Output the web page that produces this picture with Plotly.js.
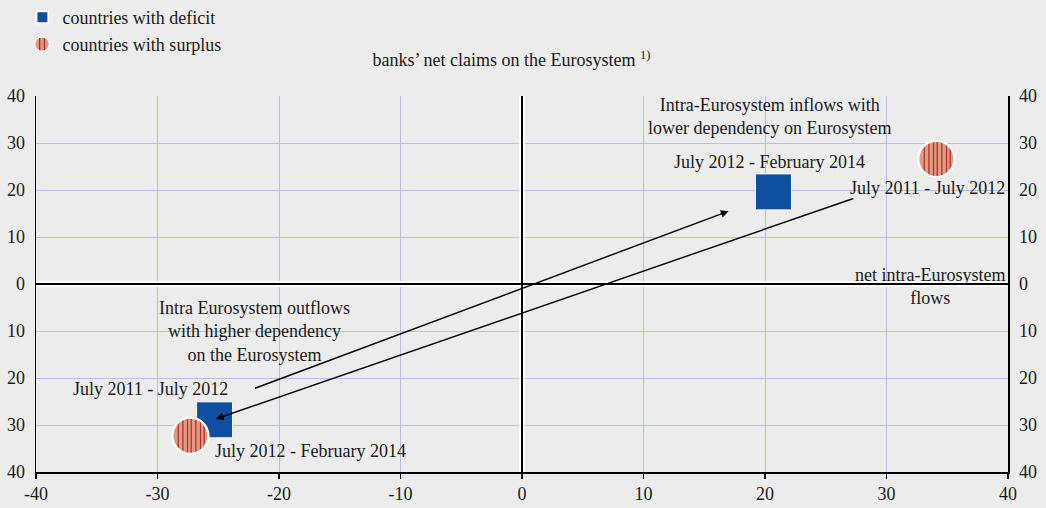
<!DOCTYPE html>
<html>
<head>
<meta charset="utf-8">
<script src="https://cdn.plot.ly/plotly-3.0.1.min.js"></script>
<style>html,body{margin:0;padding:0;background:#ececec;}</style>
</head>
<body>
<div id="chart" style="width:1046px;height:508px;"></div>
<script>
// Data (net intra-Eurosystem flows, banks' net claims on the Eurosystem)
const seriesNames = ["countries with deficit", "countries with surplus"];
const periods = ["July 2011 - July 2012", "July 2012 - February 2014"];
const deficitX = [20.7, -25.3];
const deficitY = [19.6, -28.9];
const surplusX = [34.1, -27.3];
const surplusY = [26.6, -32.3];
const tickVals = [-40, -30, -20, -10, 0, 10, 20, 30, 40];
const xTickText = ["-40", "-30", "-20", "-10", "0", "10", "20", "30", "40"];
const yTickText = ["40", "30", "20", "10", "0", "10", "20", "30", "40"];

const FONT = "'Liberation Serif', 'Times New Roman', serif";
const FS = 18;
const TXT = "#1a1a1a";
const BG = "#ececec";
const GRID = "#b7bfe6";
const BLUE = "#0f4f9f";
const SALMON = "#e29a85";

const stripeSvg = "<svg xmlns='http://www.w3.org/2000/svg' viewBox='0 0 40 40'>" +
  "<defs><clipPath id='c'><circle cx='20' cy='20' r='19'/></clipPath></defs>" +
  "<circle cx='20' cy='20' r='19' fill='" + SALMON + "'/>" +
  "<g clip-path='url(#c)' stroke='#b0332b' stroke-width='1.4'>" +
  "<line x1='7' y1='0' x2='7' y2='40'/><line x1='12' y1='0' x2='12' y2='40'/>" +
  "<line x1='17' y1='0' x2='17' y2='40'/><line x1='21' y1='0' x2='21' y2='40'/>" +
  "<line x1='26' y1='0' x2='26' y2='40'/><line x1='31' y1='0' x2='31' y2='40'/>" +
  "<line x1='35' y1='0' x2='35' y2='40'/></g>" +
  "<circle cx='20' cy='20' r='19' fill='none' stroke='white' stroke-width='1.5'/></svg>";
const stripeUrl = "data:image/svg+xml;charset=utf-8," + encodeURIComponent(stripeSvg);
const legendStripeSvg = "<svg xmlns='http://www.w3.org/2000/svg' viewBox='0 0 40 40'>" +
  "<defs><clipPath id='c'><circle cx='20' cy='20' r='18'/></clipPath></defs>" +
  "<circle cx='20' cy='20' r='18' fill='" + SALMON + "'/>" +
  "<g clip-path='url(#c)' stroke='#b0332b' stroke-width='3.5'>" +
  "<line x1='14' y1='0' x2='14' y2='40'/><line x1='26' y1='0' x2='26' y2='40'/></g>" +
  "<circle cx='20' cy='20' r='18' fill='none' stroke='white' stroke-width='2.5'/></svg>";
const legendStripeUrl = "data:image/svg+xml;charset=utf-8," + encodeURIComponent(legendStripeSvg);

const traces = [
  {
    type: "scatter", mode: "markers", name: seriesNames[0], legendgroup: "d",
    x: deficitX, y: deficitY, text: periods,
    marker: {symbol: "square", size: 36, color: BLUE, line: {color: "white", width: 1}},
    hoverinfo: "x+y+text"
  },
  {
    type: "scatter", mode: "markers", name: seriesNames[1], legendgroup: "s",
    x: surplusX, y: surplusY, text: periods, showlegend: false,
    marker: {symbol: "circle", size: 37, color: SALMON, line: {color: "white", width: 1.5}},
    hoverinfo: "x+y+text"
  },
  // legend entry for the surplus series (striped swatch image sits under this transparent symbol)
  {
    type: "scatter", mode: "markers", name: seriesNames[1], legendgroup: "s",
    x: [null], y: [null], showlegend: true, hoverinfo: "skip",
    marker: {symbol: "circle", size: 14, color: "rgba(0,0,0,0)", line: {color: "rgba(0,0,0,0)", width: 0}}
  },
  {
    type: "scatter", mode: "markers", x: [], y: [], yaxis: "y2",
    showlegend: false, hoverinfo: "skip"
  }
];

const images = surplusX.map((x, i) => ({
  source: stripeUrl, xref: "x", yref: "y", x: x, y: surplusY[i],
  sizex: 3.05, sizey: 7.9, xanchor: "center", yanchor: "middle",
  sizing: "stretch", layer: "above"
}));
// striped swatch for the legend
images.push({
  source: legendStripeUrl, xref: "paper", yref: "paper",
  x: 0.0062, y: 1.138, sizex: 0.0165, sizey: 0.0426,
  xanchor: "center", yanchor: "middle", sizing: "stretch", layer: "above"
});

const ann = (text, x, y, extra) => Object.assign({
  text: text, x: x, y: y, xref: "x", yref: "y", showarrow: false,
  font: {family: FONT, size: FS, color: TXT}, align: "center"
}, extra || {});

const arrow = (x, y, ax, ay) => ({
  text: "", x: x, y: y, ax: ax, ay: ay, xref: "x", yref: "y", axref: "x", ayref: "y",
  showarrow: true, arrowhead: 2, arrowsize: 1.1, arrowwidth: 1.4, arrowcolor: "#000"
});

const annotations = [
  ann("Intra-Eurosystem inflows with<br>lower dependency on Eurosystem", 20.4, 35.7),
  ann(periods[1], 20.4, 26.0),
  ann(periods[0], 33.4, 20.4),
  ann("net intra-Eurosystem<br>flows", 33.6, -0.5),
  ann("Intra Eurosystem outflows<br>with higher dependency<br>on the Eurosystem", -22.0, -10.2),
  ann(periods[0], -30.6, -22.3),
  ann(periods[1], -17.4, -35.5),
  arrow(17.0, 15.5, -22.1, -22.3),
  arrow(-25.2, -28.7, 27.4, 18.3)
];

const shapes = [
  {type: "line", xref: "x", yref: "y", x0: 0, x1: 0, y0: -40, y1: 40, layer: "between", line: {color: "white", width: 6}},
  {type: "line", xref: "x", yref: "y", x0: -40, x1: 40, y0: 0, y1: 0, layer: "between", line: {color: "white", width: 6}},
  {type: "line", xref: "x", yref: "y", x0: 0, x1: 0, y0: -40, y1: 40, layer: "between", line: {color: "black", width: 2}},
  {type: "line", xref: "x", yref: "y", x0: -40, x1: 40, y0: 0, y1: 0, layer: "between", line: {color: "black", width: 2}}
];

const axisFont = {family: FONT, size: FS, color: TXT};

const layout = {
  width: 1046, height: 508,
  margin: {l: 36, r: 38, t: 96, b: 36, pad: 0, autoexpand: false},
  paper_bgcolor: BG, plot_bgcolor: BG,
  font: {family: FONT, size: FS, color: TXT},
  title: {
    text: "banks’ net claims on the Eurosystem <sup>1)</sup>",
    x: 0.489, xanchor: "center", y: 0.882, yanchor: "middle",
    font: {family: FONT, size: FS, color: TXT}
  },
  showlegend: true,
  legend: {
    x: -0.014, xanchor: "left", y: 1.258, yanchor: "top",
    bgcolor: "rgba(0,0,0,0)", font: {family: FONT, size: FS, color: TXT},
    itemsizing: "constant", tracegroupgap: 0, traceorder: "normal"
  },
  xaxis: {
    range: [-40, 40], tickvals: tickVals, ticktext: xTickText,
    showgrid: true, gridcolor: GRID, gridwidth: 1, zeroline: false,
    showline: true, linecolor: "black", linewidth: 1.5,
    ticks: "outside", ticklen: 5, tickcolor: "black", tickwidth: 1.2,
    tickfont: axisFont, fixedrange: true
  },
  yaxis: {
    range: [-40, 40], tickvals: tickVals, ticktext: yTickText,
    showgrid: true, gridcolor: GRID, gridwidth: 1, zeroline: false,
    showline: true, linecolor: "black", linewidth: 1.5,
    ticks: "", ticklabelstandoff: 6, tickfont: axisFont, fixedrange: true
  },
  yaxis2: {
    range: [-40, 40], tickvals: tickVals, ticktext: yTickText,
    overlaying: "y", side: "right", showgrid: false, zeroline: false,
    showline: true, linecolor: "black", linewidth: 1.5,
    ticks: "", ticklabelstandoff: 6, tickfont: axisFont, fixedrange: true
  },
  images: images,
  annotations: annotations,
  shapes: shapes
};

Plotly.newPlot("chart", traces, layout, {displayModeBar: false, staticPlot: true});
</script>
</body>
</html>
